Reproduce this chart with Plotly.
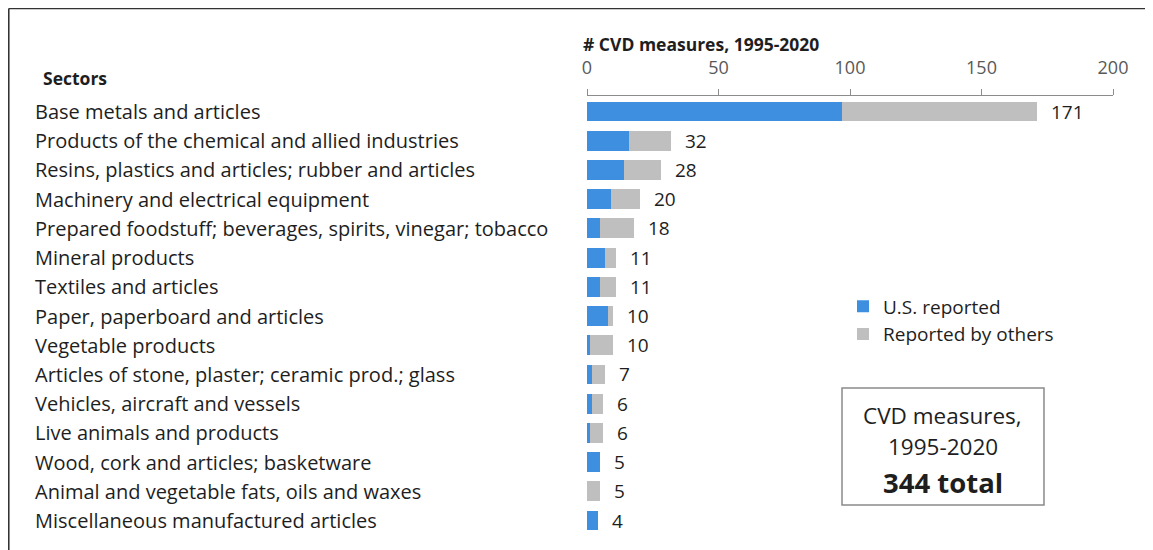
import plotly.graph_objects as go

sectors = [
    "Base metals and articles",
    "Products of the chemical and allied industries",
    "Resins, plastics and articles; rubber and articles",
    "Machinery and electrical equipment",
    "Prepared foodstuff; beverages, spirits, vinegar; tobacco",
    "Mineral products",
    "Textiles and articles",
    "Paper, paperboard and articles",
    "Vegetable products",
    "Articles of stone, plaster; ceramic prod.; glass",
    "Vehicles, aircraft and vessels",
    "Live animals and products",
    "Wood, cork and articles; basketware",
    "Animal and vegetable fats, oils and waxes",
    "Miscellaneous manufactured articles",
]
totals = [171, 32, 28, 20, 18, 11, 11, 10, 10, 7, 6, 6, 5, 5, 4]
us_reported = [97, 16, 14, 9, 5, 7, 5, 8, 1, 2, 2, 1, 5, 0, 4]
others = [t - u for t, u in zip(totals, us_reported)]
tick_vals = [0, 50, 100, 150, 200]

FONT = "Open Sans"
BLUE = "#3f8fe0"
GRAY = "#bfbfbf"
TXT = "#1e1e1e"

fig = go.Figure()
fig.add_trace(go.Bar(y=sectors, x=us_reported, orientation="h", name="U.S. reported",
                     marker=dict(color=BLUE, line=dict(width=0)), width=0.68))
fig.add_trace(go.Bar(y=sectors, x=others, orientation="h", name="Reported by others",
                     marker=dict(color=GRAY, line=dict(width=0)), width=0.68))

annotations = []
for s, t in zip(sectors, totals):
    annotations.append(dict(x=t, y=s, xref="x", yref="y", text=str(t), showarrow=False,
                            xanchor="left", xshift=12, font=dict(family=FONT, size=19, color=TXT)))
    annotations.append(dict(x=-1.0532, y=s, xref="paper", yref="y", text=s, showarrow=False,
                            xanchor="left", font=dict(family=FONT, size=20, color=TXT)))

annotations.append(dict(x=-1.038, y=1.041, xref="paper", yref="paper", text="<b>Sectors</b>",
                        showarrow=False, xanchor="left", yanchor="middle",
                        font=dict(family=FONT, size=17.5, color=TXT)))
annotations.append(dict(x=-0.011, y=1.118, xref="paper", yref="paper",
                        text="<b># CVD measures, 1995-2020</b>",
                        showarrow=False, xanchor="left", yanchor="middle",
                        font=dict(family=FONT, size=17.5, color=TXT)))
box_lines = [("CVD measures,", 0.275, 22.5, False), ("1995-2020", 0.2045, 22.5, False),
             ("344 total", 0.1205, 27.5, True)]
for txt, yy, sz, bold in box_lines:
    annotations.append(dict(x=0.6768, y=yy, xref="paper", yref="paper",
                            text=f"<b>{txt}</b>" if bold else txt,
                            showarrow=False, xanchor="center", yanchor="middle",
                            font=dict(family=FONT, size=sz, color=TXT)))

fig.update_layout(
    width=1145, height=542,
    margin=dict(l=579, r=40, t=88, b=14),
    barmode="stack",
    plot_bgcolor="white", paper_bgcolor="white",
    font=dict(family=FONT, size=18, color=TXT),
    xaxis=dict(range=[0, 200], side="top", tickvals=tick_vals, showgrid=False, zeroline=False,
               showline=True, linecolor="#8c8c8c", linewidth=1, ticks="outside", ticklen=6,
               tickcolor="#8c8c8c", ticklabelstandoff=8,
               tickfont=dict(family=FONT, size=18, color="#595959"), fixedrange=True),
    yaxis=dict(autorange="reversed", showticklabels=False, showgrid=False, zeroline=False,
               showline=False, ticks=""),
    legend=dict(x=0.4867, y=0.565, xanchor="left", yanchor="top", traceorder="normal",
                font=dict(family=FONT, size=19, color=TXT), bgcolor="rgba(0,0,0,0)",
                itemwidth=30, tracegroupgap=0),
    annotations=annotations,
    shapes=[
        dict(type="line", xref="paper", yref="paper", x0=-1.0993, x1=1.2, y0=1.1989, y1=1.1989,
             line=dict(color="#333333", width=1.6), layer="below"),
        dict(type="line", xref="paper", yref="paper", x0=-1.0993, x1=-1.0993, y0=1.1989, y1=-0.1,
             line=dict(color="#333333", width=1.6), layer="below"),
        dict(type="rect", xref="paper", yref="paper", x0=0.4848, x1=0.8688, y0=0.0705, y1=0.3364,
             line=dict(color="#8a8a8a", width=1.5), layer="below"),
    ],
    showlegend=True,
)

fig.write_html("out.html")
